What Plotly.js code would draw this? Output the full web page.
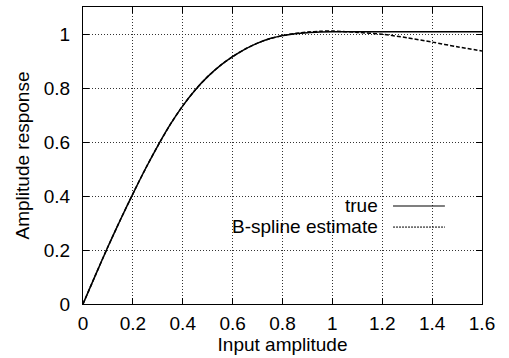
<!DOCTYPE html>
<html>
<head>
<meta charset="utf-8">
<script src="https://cdn.plot.ly/plotly-3.0.1.min.js"></script>
<style>
html,body{margin:0;padding:0;background:#fff;}
#chart{width:509px;height:358px;}
</style>
</head>
<body>
<div id="chart"></div>
<script>
// Input amplitude samples
const inputAmp = [0, 0.05, 0.1, 0.15, 0.2, 0.25, 0.3, 0.35, 0.4, 0.45, 0.5, 0.55, 0.6, 0.65, 0.7, 0.75, 0.8, 0.85, 0.9, 0.95, 1.0, 1.1, 1.2, 1.3, 1.4, 1.5, 1.6];
// True amplitude response
const trueResp = [0, 0.107, 0.212, 0.312, 0.408, 0.500, 0.586, 0.665, 0.734, 0.793, 0.842, 0.883, 0.916, 0.944, 0.966, 0.983, 0.994, 1.001, 1.005, 1.007, 1.008, 1.008, 1.008, 1.008, 1.008, 1.008, 1.008];
// B-spline estimate
const splineResp = [0, 0.107, 0.212, 0.312, 0.408, 0.500, 0.586, 0.665, 0.734, 0.793, 0.842, 0.883, 0.916, 0.944, 0.966, 0.983, 0.994, 1.002, 1.007, 1.010, 1.011, 1.006, 0.999, 0.986, 0.970, 0.953, 0.937];

const xTicks = [0, 0.2, 0.4, 0.6, 0.8, 1, 1.2, 1.4, 1.6];
const yTicks = [0, 0.2, 0.4, 0.6, 0.8, 1];
const seriesNames = ['true', 'B-spline estimate'];

const FONT = 'Liberation Sans, Arial, sans-serif';
const FS = 19;

const traces = [
  {x: inputAmp, y: trueResp, type: 'scatter', mode: 'lines', name: seriesNames[0],
   line: {color: '#000', width: 1.5, shape: 'spline', smoothing: 0.8}, showlegend: false},
  {x: inputAmp, y: splineResp, type: 'scatter', mode: 'lines', name: seriesNames[1],
   line: {color: '#000', width: 1.5, dash: '4px,2px', shape: 'spline', smoothing: 0.8}, showlegend: false}
];

const axisCommon = {
  showline: true, linecolor: '#000', linewidth: 1, mirror: 'ticks',
  ticks: 'inside', ticklen: 6, tickcolor: '#000', tickwidth: 1,
  showgrid: true, gridcolor: '#333', griddash: '1px,2px', gridwidth: 1,
  zeroline: false, tickfont: {family: FONT, size: FS, color: '#000'}
};

const layout = {
  width: 509, height: 358,
  margin: {l: 83, r: 27, t: 7, b: 54},
  paper_bgcolor: '#fff', plot_bgcolor: '#fff',
  font: {family: FONT, size: FS, color: '#000'},
  xaxis: Object.assign({}, axisCommon, {
    range: [0, 1.6], tickvals: xTicks, ticktext: xTicks.map(String),
    ticklabelstandoff: 2,
    title: {text: 'Input amplitude', font: {family: FONT, size: FS, color: '#000'}, standoff: 3}
  }),
  yaxis: Object.assign({}, axisCommon, {
    range: [0, 1.1], tickvals: yTicks, ticktext: yTicks.map(String),
    ticklabelstandoff: 8,
    title: {text: 'Amplitude response', font: {family: FONT, size: FS, color: '#000'}, standoff: 9}
  }),
  showlegend: false,
  annotations: [
    {xref: 'paper', yref: 'paper', x: 0.745, y: 0.332, xanchor: 'right', yanchor: 'middle',
     text: seriesNames[0], showarrow: false, font: {family: FONT, size: FS, color: '#000'}},
    {xref: 'paper', yref: 'paper', x: 0.745, y: 0.261, xanchor: 'right', yanchor: 'middle',
     text: seriesNames[1], showarrow: false, font: {family: FONT, size: FS, color: '#000'}}
  ],
  shapes: [
    {type: 'line', xref: 'paper', yref: 'paper', x0: 0.777, x1: 0.907, y0: 0.330, y1: 0.330,
     line: {color: '#000', width: 1.2}},
    {type: 'line', xref: 'paper', yref: 'paper', x0: 0.777, x1: 0.907, y0: 0.259, y1: 0.259,
     line: {color: '#000', width: 1, dash: '2px,1px'}}
  ]
};

Plotly.newPlot('chart', traces, layout, {staticPlot: true, displayModeBar: false});
</script>
</body>
</html>
